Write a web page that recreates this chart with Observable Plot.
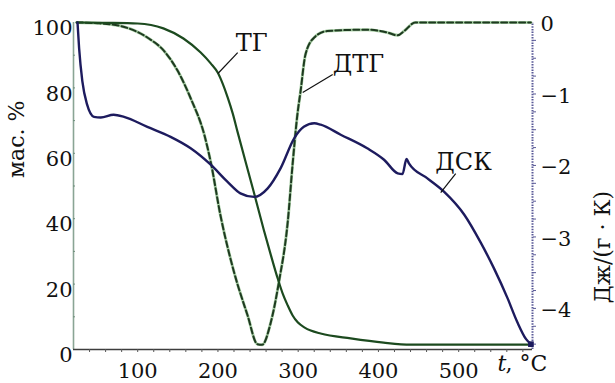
<!DOCTYPE html>
<html>
<head>
<meta charset="utf-8">
<script src="https://cdn.jsdelivr.net/npm/d3@7"></script>
<script src="https://cdn.jsdelivr.net/npm/@observablehq/plot@0.6"></script>
<style>
  html, body { margin: 0; padding: 0; background: #fff; }
  #chart { width: 615px; height: 383px; }
</style>
</head>
<body>
<div id="chart"></div>
<script>
// ---- Data ----
// TG: mass, % (left axis)
const T_TG = [24, 60, 100, 132, 157, 178.5, 191, 199.7, 205.9, 212.1, 218.4, 224.6, 244.5, 257, 265.7, 274.5, 280.7, 286.9, 293.1, 299.4, 308.1, 315.6, 328, 365.4, 406.5, 440.2, 500, 590];
const TG   = [100, 99.9, 99.7, 98.2, 95.1, 90.8, 87.5, 84.7, 81.3, 77.1, 72.2, 66.4, 48.3, 36.7, 29.1, 21.7, 17.1, 13.5, 10.4, 8.3, 6.7, 5.8, 4.9, 3.4, 2.1, 1.5, 1.5, 1.5];

// DTG (right-axis units)
const T_DTG = [24, 50, 79, 112, 133, 150, 166, 183, 191, 203, 220, 237, 249, 255, 266, 276, 287, 293, 299, 303, 309, 320, 336, 386, 411, 424, 432, 446, 590];
const DTG   = [0, -0.01, -0.05, -0.21, -0.40, -0.68, -1.06, -1.57, -1.95, -2.69, -3.49, -4.10, -4.50, -4.51, -4.19, -3.63, -2.79, -1.99, -1.29, -0.96, -0.45, -0.21, -0.12, -0.10, -0.14, -0.18, -0.12, 0.0, 0.0];

// DSC, J/(g·K) (right axis)
const T_DSC = [25, 27, 31, 37, 45.5, 54, 70, 83, 112, 141, 166, 191, 212, 228, 245, 262, 278, 295, 307, 320, 328, 353, 386, 407, 424, 430, 435, 438, 461, 482, 507, 527, 544, 561, 573, 584, 590];
const DSC   = [0, -0.36, -0.82, -1.15, -1.32, -1.33, -1.29, -1.32, -1.46, -1.60, -1.76, -1.99, -2.23, -2.39, -2.44, -2.32, -2.04, -1.62, -1.46, -1.41, -1.43, -1.57, -1.76, -1.92, -2.11, -2.12, -1.91, -1.97, -2.18, -2.37, -2.69, -3.07, -3.44, -3.86, -4.19, -4.43, -4.50];

// Ticks
const xTicks = [100, 200, 300, 400, 500];
const leftTicks = [0, 20, 40, 60, 80, 100];
const rightTicks = [0, -1, -2, -3, -4];
const xDomain = [20, 592];
const rightDomain = [-4.575, 0];

// Annotations (data coordinates: °C, mass %)
const annLabels = ["ТГ", "ДТГ", "ДСК"];
const annT = [242, 375, 506];
const annP = [93.6, 87.2, 57.2];
const leadT1 = [200, 305.6, 477.6];
const leadP1 = [84.4, 78.6, 48.0];
const leadT2 = [224.6, 343, 496.3];
const leadP2 = [90.8, 84.1, 53.8];

// ---- Build ----
const toLeft = v => (v - rightDomain[0]) / (rightDomain[1] - rightDomain[0]) * 100;
const fromLeft = p => p / 100 * (rightDomain[1] - rightDomain[0]) + rightDomain[0];
const fmtRight = v => { const r = Math.round(v); return r < 0 ? "\u2212" + Math.abs(r) : String(r); };

const tg = T_TG.map((t, i) => ({t, y: TG[i]}));
const dtg = T_DTG.map((t, i) => ({t, y: toLeft(DTG[i])}));
const dsc = T_DSC.map((t, i) => ({t, y: toLeft(DSC[i])}));
const ann = annLabels.map((s, i) => ({s, t: annT[i], y: annP[i]}));
const leads = annLabels.map((s, i) => ({x1: leadT1[i], y1: leadP1[i], x2: leadT2[i], y2: leadP2[i]}));

const serif = "DejaVu Serif";
const navy = "#1d1b5e";
const green = "#1c4a1f";

const chart = Plot.plot({
  width: 615,
  height: 383,
  marginLeft: 73,
  marginRight: 83,
  marginTop: 22,
  marginBottom: 34,
  style: {fontFamily: serif, fontSize: "21px", background: "#fff", color: "#111"},
  x: {domain: xDomain},
  y: {domain: [0, 100]},
  marks: [
    // axis lines
    Plot.ruleX([xDomain[0]], {y1: 0, y2: 100, stroke: "#8aa595", strokeWidth: 1.6}),
    Plot.ruleX([xDomain[1]], {y1: 0, y2: 100, stroke: "#5a5a98", strokeWidth: 2, strokeDasharray: "1.5,1.2"}),
    Plot.ruleY([0], {stroke: "#3d3d3d", strokeWidth: 1.6}),
    // x axis
    Plot.axisX({ticks: d3.range(40, 592, 20), tickSize: 3, tickFormat: () => "", stroke: "#555", label: null}),
    Plot.axisX({ticks: xTicks, tickSize: 0, tickPadding: 14, label: null, fontSize: 21}),
    // left axis
    Plot.axisY({ticks: d3.range(10, 100, 10), tickSize: -2, tickFormat: () => "", stroke: "#6f8f7d", label: null}),
    Plot.axisY({ticks: leftTicks, tickSize: 0, tickPadding: 1, dy: 6, label: null, fontSize: 21}),
    // right axis
    Plot.axisY({anchor: "right", ticks: d3.range(-4.5, 0, 0.25).map(toLeft), tickSize: 3, tickFormat: () => "", stroke: "#5a5a98", label: null}),
    Plot.axisY({anchor: "right", ticks: rightTicks.map(toLeft), tickFormat: d => fmtRight(fromLeft(d)), tickSize: 0, tickPadding: 8, dy: 2, label: null, fontSize: 21}),
    // axis titles
    Plot.text(["мас. %"], {frameAnchor: "left", dx: -57, dy: -8, rotate: -90, fontSize: 22, fontFamily: serif, fill: "#111"}),
    Plot.text(["Дж/(г · К)"], {frameAnchor: "right", dx: 70, dy: 5, rotate: -90, fontSize: 22, fontFamily: serif, fill: "#111"}),
    Plot.text(["t"], {frameAnchor: "bottom-right", dx: -35, dy: 21, textAnchor: "start", fontStyle: "italic", fontSize: 22, fontFamily: serif, fill: "#111"}),
    Plot.text([", °C"], {frameAnchor: "bottom-right", dx: -27, dy: 21, textAnchor: "start", fontSize: 22, fontFamily: serif, fill: "#111"}),
    // curves
    Plot.line(dtg, {x: "t", y: "y", stroke: "#a9cfa6", strokeWidth: 3, curve: "monotone-x"}),
    Plot.line(dtg, {x: "t", y: "y", stroke: "#1e3a20", strokeWidth: 2, strokeDasharray: "6,3", curve: "monotone-x"}),
    Plot.line(tg, {x: "t", y: "y", stroke: green, strokeWidth: 2.2, curve: "monotone-x"}),
    Plot.line(dsc, {x: "t", y: "y", stroke: navy, strokeWidth: 2.4, curve: "monotone-x"}),
    Plot.dot(dsc.slice(-1), {x: "t", y: "y", symbol: "square", r: 3.2, fill: navy}),
    // annotations
    Plot.link(leads, {x1: "x1", y1: "y1", x2: "x2", y2: "y2", stroke: "#111", strokeWidth: 1.2}),
    Plot.text(ann, {x: "t", y: "y", text: "s", fontSize: 24, fontFamily: serif, fill: "#111"})
  ]
});
document.getElementById("chart").append(chart);
</script>
</body>
</html>
